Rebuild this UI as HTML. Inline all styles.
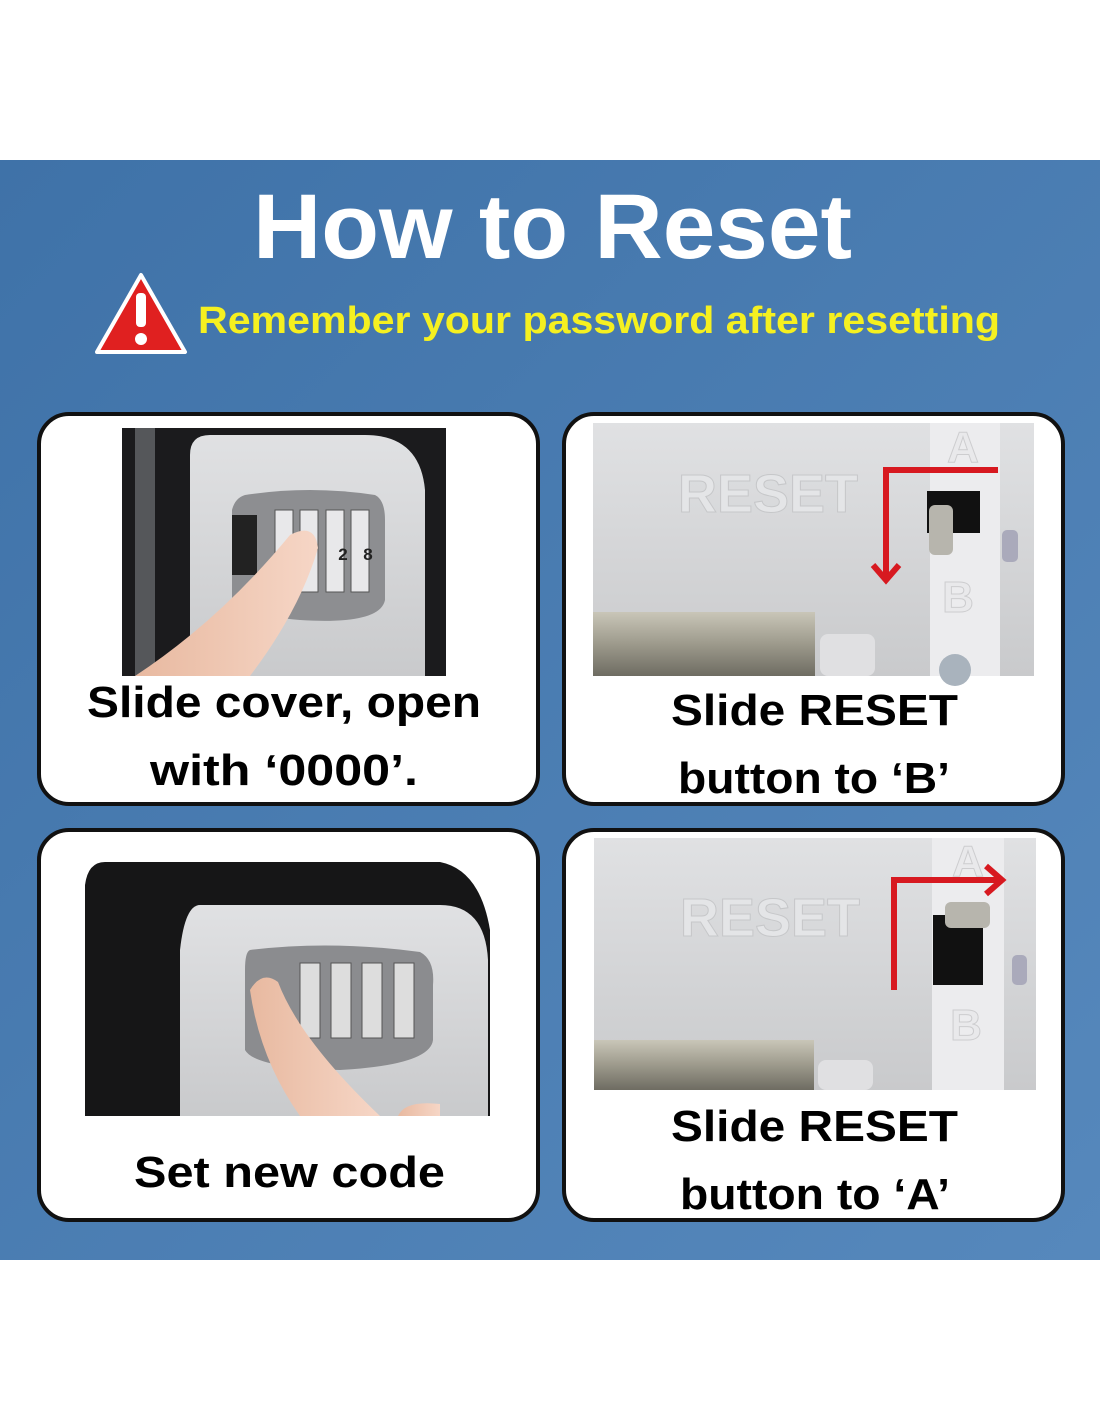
<!DOCTYPE html>
<html><head><meta charset="utf-8"><style>
html,body{margin:0;padding:0;background:#fff;width:1100px;height:1422px;overflow:hidden}
svg{display:block}
text{font-family:"Liberation Sans",sans-serif;font-weight:bold}
</style></head><body>
<svg width="1100" height="1422" viewBox="0 0 1100 1422" xmlns="http://www.w3.org/2000/svg">
<defs>
<linearGradient id="bg" x1="0" y1="0" x2="1" y2="1"><stop offset="0" stop-color="#3f72a8"/><stop offset="1" stop-color="#5688bc"/></linearGradient>
<linearGradient id="gray" x1="0" y1="0" x2="0" y2="1"><stop offset="0" stop-color="#e0e1e3"/><stop offset="1" stop-color="#c9cacc"/></linearGradient>
<linearGradient id="metal" x1="0" y1="0" x2="0" y2="1"><stop offset="0" stop-color="#c9c6b8"/><stop offset="0.5" stop-color="#9d9a8c"/><stop offset="1" stop-color="#6e6c62"/></linearGradient>
<linearGradient id="skin" x1="0" y1="0" x2="1" y2="0"><stop offset="0" stop-color="#e8b9a0"/><stop offset="1" stop-color="#f6d6c6"/></linearGradient>
</defs>
<rect x="0" y="160" width="1100" height="1100" fill="url(#bg)"/>
<text x="253" y="258" font-size="92" fill="#fff" textLength="599" lengthAdjust="spacingAndGlyphs">How to Reset</text>
<path d="M141 275 L185 352 L97 352 Z" fill="#e02020" stroke="#fff" stroke-width="4" stroke-linejoin="round"/>
<rect x="136" y="293" width="10" height="34" rx="4" fill="#fff"/>
<circle cx="141" cy="339" r="6" fill="#fff"/>
<text x="198" y="333" font-size="38" fill="#f5f020" textLength="802" lengthAdjust="spacingAndGlyphs">Remember your password after resetting</text>

<g stroke="#111" stroke-width="4" fill="#fff">
<rect x="39" y="414" width="499" height="390" rx="30"/>
<rect x="564" y="414" width="499" height="390" rx="30"/>
<rect x="39" y="830" width="499" height="390" rx="30"/>
<rect x="564" y="830" width="499" height="390" rx="30"/>
</g>

<!-- TL photo -->
<rect x="122" y="428" width="324" height="248" fill="#1b1b1d"/>
<rect x="135" y="428" width="20" height="248" fill="#55575a"/>
<path d="M210 435 H365 Q420 435 425 490 V676 H190 V455 Q190 435 210 435Z" fill="url(#gray)"/>
<path d="M245 495 Q310 485 375 495 Q385 500 385 520 V600 Q380 625 300 620 Q240 615 232 600 V510 Q235 498 245 495Z" fill="#8d8e91"/>
<rect x="232" y="515" width="25" height="60" fill="#222"/>
<g fill="#e8e8ea" stroke="#555"><rect x="275" y="510" width="18" height="82"/><rect x="300" y="510" width="18" height="82"/><rect x="326" y="510" width="18" height="82"/><rect x="351" y="510" width="18" height="82"/></g>
<text x="343" y="560" font-size="17" fill="#222" font-weight="normal" text-anchor="middle">2</text>
<text x="368" y="560" font-size="17" fill="#222" font-weight="normal" text-anchor="middle">8</text>
<path d="M135 676 Q220 620 290 535 Q315 522 318 548 Q300 610 250 676Z" fill="url(#skin)"/>

<!-- TR photo -->
<rect x="593" y="423" width="441" height="253" fill="url(#gray)"/>
<rect x="930" y="423" width="70" height="253" fill="#ececee"/>
<text x="768" y="512" font-size="54" fill="#e4e5e7" stroke="#c6c7c9" stroke-width="1" font-weight="normal" text-anchor="middle">RESET</text>
<text x="963" y="462" font-size="44" fill="#e9e9eb" stroke="#cdcdcf" font-weight="normal" text-anchor="middle">A</text>
<text x="958" y="612" font-size="44" fill="#e9e9eb" stroke="#cdcdcf" font-weight="normal" text-anchor="middle">B</text>
<rect x="927" y="491" width="53" height="42" fill="#111"/>
<rect x="929" y="505" width="24" height="50" rx="6" fill="#b7b5ad"/>
<rect x="593" y="612" width="222" height="64" fill="url(#metal)"/>
<rect x="820" y="634" width="55" height="42" rx="8" fill="#e0e0e2"/>
<circle cx="955" cy="670" r="16" fill="#a9b3bd"/>
<rect x="1002" y="530" width="16" height="32" rx="5" fill="#aab"/>
<g fill="none" stroke="#d71920" stroke-width="6"><path d="M998 470 H886 V578"/><path d="M873 565 L886 580 L899 565"/></g>

<!-- BL photo -->
<path d="M105 862 H440 Q480 870 490 930 V1116 H85 V885 Q88 862 105 862Z" fill="#161617"/>
<path d="M200 905 H440 Q485 905 488 960 V1116 H180 V950 Q185 905 200 905Z" fill="url(#gray)"/>
<path d="M250 950 Q330 940 420 952 Q435 960 433 985 V1040 Q430 1065 340 1070 Q255 1068 245 1050 V970 Q245 952 250 950Z" fill="#8b8c8f"/>
<g fill="#ddd" stroke="#555"><rect x="300" y="963" width="20" height="75"/><rect x="331" y="963" width="20" height="75"/><rect x="362" y="963" width="20" height="75"/><rect x="394" y="963" width="20" height="75"/></g>
<path d="M250 990 Q262 970 278 982 Q300 1040 380 1116 H300 Q260 1060 250 990Z" fill="url(#skin)"/>
<path d="M398 1116 Q405 1100 440 1104 L440 1116Z" fill="url(#skin)"/>

<!-- BR photo -->
<rect x="594" y="838" width="442" height="252" fill="url(#gray)"/>
<rect x="932" y="838" width="72" height="252" fill="#ececee"/>
<text x="770" y="936" font-size="54" fill="#e4e5e7" stroke="#c6c7c9" stroke-width="1" font-weight="normal" text-anchor="middle">RESET</text>
<text x="968" y="876" font-size="44" fill="#e9e9eb" stroke="#cdcdcf" font-weight="normal" text-anchor="middle">A</text>
<text x="966" y="1040" font-size="44" fill="#e9e9eb" stroke="#cdcdcf" font-weight="normal" text-anchor="middle">B</text>
<rect x="933" y="915" width="50" height="70" fill="#111"/>
<rect x="945" y="902" width="45" height="26" rx="6" fill="#b7b5ad"/>
<rect x="594" y="1040" width="220" height="50" fill="url(#metal)"/>
<rect x="818" y="1060" width="55" height="30" rx="8" fill="#e0e0e2"/>
<rect x="1012" y="955" width="15" height="30" rx="5" fill="#aab"/>
<g fill="none" stroke="#d71920" stroke-width="6"><path d="M894 990 V880 H1000"/><path d="M986 866 L1002 880 L986 894"/></g>

<g font-size="44" fill="#000">
<text x="87" y="717" textLength="394" lengthAdjust="spacingAndGlyphs">Slide cover, open</text>
<text x="150" y="785" textLength="268" lengthAdjust="spacingAndGlyphs">with ‘0000’.</text>
<text x="671" y="725" textLength="287" lengthAdjust="spacingAndGlyphs">Slide RESET</text>
<text x="678" y="793" textLength="272" lengthAdjust="spacingAndGlyphs">button to ‘B’</text>
<text x="134" y="1187" textLength="311" lengthAdjust="spacingAndGlyphs">Set new code</text>
<text x="671" y="1141" textLength="287" lengthAdjust="spacingAndGlyphs">Slide RESET</text>
<text x="680" y="1209" textLength="270" lengthAdjust="spacingAndGlyphs">button to ‘A’</text>
</g>
</svg>
</body></html>
